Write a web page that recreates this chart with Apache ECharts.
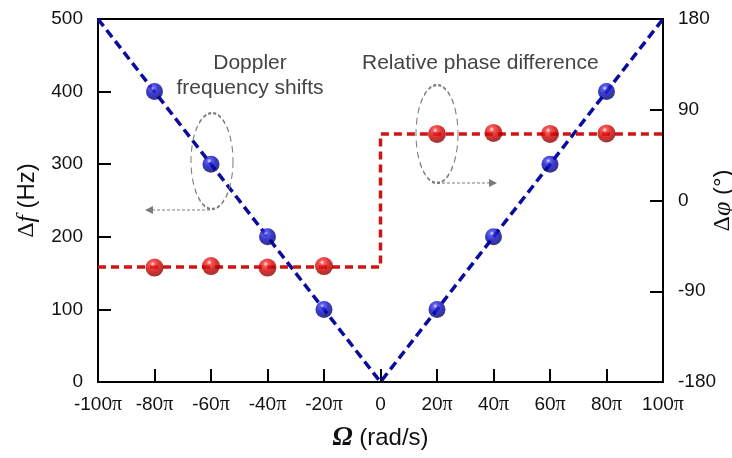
<!DOCTYPE html>
<html>
<head>
<meta charset="utf-8">
<script src="https://cdn.jsdelivr.net/npm/echarts@6/dist/echarts.min.js"></script>
<style>
  html, body { margin: 0; padding: 0; background: #fff; }
  #chart { width: 732px; height: 458px; }
</style>
</head>
<body>
<div id="chart"></div>
<script>
// 数据：角速度(单位 π rad/s)
var omegaPts = [-80, -60, -40, -20, 20, 40, 60, 80];
var freqShift = [400, 300, 200, 100, 100, 200, 300, 400];
var phaseDiff = [-66.5, -65, -66.5, -65, 66, 67, 66, 66.5];
// 理论线
var fitOmega = [-100, 0, 100];
var fitFreq = [500, 0, 500];
var stepOmega = [-100, 0, 0, 100];
var stepPhase = [-66, -66, 66, 66];

var myChart = echarts.init(document.getElementById('chart'));

function zip(a, b) {
    return a.map(function (v, i) { return [v, b[i]]; });
}

// 小球的立体效果
var blueBall = new echarts.graphic.RadialGradient(0.4, 0.3, 0.7, [
    { offset: 0, color: '#e8e8ff' },
    { offset: 0.18, color: '#3a3ae8' },
    { offset: 0.5, color: '#0a0ac0' },
    { offset: 1, color: '#00006a' }
]);
var redBall = new echarts.graphic.RadialGradient(0.4, 0.3, 0.7, [
    { offset: 0, color: '#ffe8e8' },
    { offset: 0.2, color: '#f03030' },
    { offset: 0.55, color: '#d40000' },
    { offset: 1, color: '#8a0000' }
]);

var labelFont = 'Liberation Sans';
var serif = 'Liberation Serif';
var grey = '#7a7a7a';

var nameStyle = {
    fontFamily: labelFont, fontSize: 24, color: '#111',
    rich: {
        d: { fontFamily: serif, fontSize: 24, color: '#111' },
        it: { fontFamily: serif, fontStyle: 'italic', fontSize: 26, color: '#111' }
    }
};

option = {
    animation: false,
    grid: {
        left: 98, right: 69, top: 19, bottom: 76,
        outerBoundsMode: 'none',
        containLabel: false,
        show: true, borderColor: '#000', borderWidth: 2
    },
    xAxis: {
        type: 'value',
        min: -100, max: 100, interval: 20,
        name: '{om|Ω} (rad/s)',
        nameLocation: 'middle',
        nameGap: 43,
        nameMoveOverlap: false,
        nameTextStyle: {
            fontFamily: labelFont, fontSize: 24, color: '#111',
            rich: { om: { fontFamily: serif, fontStyle: 'italic', fontWeight: 'bold', fontSize: 27, color: '#111' } }
        },
        axisLine: { onZero: false, lineStyle: { color: '#000', width: 2 } },
        axisTick: { inside: true, length: 13, lineStyle: { color: '#000', width: 2 } },
        splitLine: { show: false },
        axisLabel: {
            margin: 13, fontFamily: labelFont, fontSize: 19, color: '#111',
            formatter: function (v) {
                return v === 0 ? '0' : v + '{pi|π}';
            },
            rich: { pi: { fontFamily: serif, fontSize: 20, color: '#111' } }
        }
    },
    yAxis: [{
        type: 'value',
        min: 0, max: 500, interval: 100,
        name: '{d|Δ}{it|f} (Hz)',
        nameLocation: 'middle',
        nameGap: 58,
        nameRotate: 90,
        nameMoveOverlap: false,
        nameTextStyle: nameStyle,
        axisLine: { show: true, onZero: false, lineStyle: { color: '#000', width: 2 } },
        axisTick: { show: true, inside: true, length: 13, lineStyle: { color: '#000', width: 2 } },
        splitLine: { show: false },
        axisLabel: { margin: 15, fontFamily: labelFont, fontSize: 19, color: '#111' }
    }, {
        type: 'value',
        min: -180, max: 180, interval: 90,
        position: 'right',
        name: '{d|Δ}{it|φ} (°)',
        nameLocation: 'middle',
        nameGap: 47,
        nameRotate: 90,
        nameMoveOverlap: false,
        nameTextStyle: nameStyle,
        axisLine: { show: true, onZero: false, lineStyle: { color: '#000', width: 2 } },
        axisTick: { show: true, inside: true, length: 13, lineStyle: { color: '#000', width: 2 } },
        splitLine: { show: false },
        axisLabel: { margin: 15, fontFamily: labelFont, fontSize: 19, color: '#111' }
    }],
    series: [{
        name: 'fit',
        type: 'line',
        data: zip(fitOmega, fitFreq),
        showSymbol: false,
        lineStyle: { color: '#0b0b9c', width: 3.5, type: [9, 5] },
        z: 2
    }, {
        name: 'step',
        type: 'line',
        yAxisIndex: 1,
        data: zip(stepOmega, stepPhase),
        showSymbol: false,
        lineStyle: { color: '#cf1414', width: 3.5, type: [8, 5] },
        z: 2
    }, {
        name: 'Doppler frequency shifts',
        type: 'scatter',
        data: zip(omegaPts, freqShift),
        symbolSize: 17,
        itemStyle: { color: blueBall },
        z: 5
    }, {
        name: 'Relative phase difference',
        type: 'scatter',
        yAxisIndex: 1,
        data: zip(omegaPts, phaseDiff),
        symbolSize: 18,
        itemStyle: { color: redBall },
        z: 5
    }],
    graphic: [
        { type: 'text', x: 250, y: 51, style: { text: 'Doppler\nfrequency shifts', align: 'center', fontFamily: labelFont, fontSize: 21, fill: '#444', lineHeight: 25 } },
        { type: 'circle', shape: { cx: 212, cy: 161, r: 21 }, scaleY: 48 / 21, originX: 212, originY: 161,
          style: { fill: 'none', stroke: grey, lineWidth: 1, lineDash: [3, 2], strokeNoScale: true }, z: 10 },
        { type: 'line', shape: { x1: 210, y1: 210, x2: 152, y2: 210 }, style: { stroke: grey, lineWidth: 1, lineDash: [3, 2] }, z: 10 },
        { type: 'polygon', shape: { points: [[145, 210], [153, 206], [153, 214]] }, style: { fill: grey }, z: 10 },
        { type: 'text', x: 362, y: 53, style: { text: 'Relative phase difference', fontFamily: labelFont, fontSize: 21, fill: '#444' } },
        { type: 'circle', shape: { cx: 437, cy: 134, r: 21 }, scaleY: 49 / 21, originX: 437, originY: 134,
          style: { fill: 'none', stroke: grey, lineWidth: 1, lineDash: [3, 2], strokeNoScale: true }, z: 10 },
        { type: 'line', shape: { x1: 437, y1: 183, x2: 490, y2: 183 }, style: { stroke: grey, lineWidth: 1, lineDash: [3, 2] }, z: 10 },
        { type: 'polygon', shape: { points: [[497, 183], [489, 179], [489, 187]] }, style: { fill: grey }, z: 10 }
    ]
};

myChart.setOption(option);
</script>
</body>
</html>
